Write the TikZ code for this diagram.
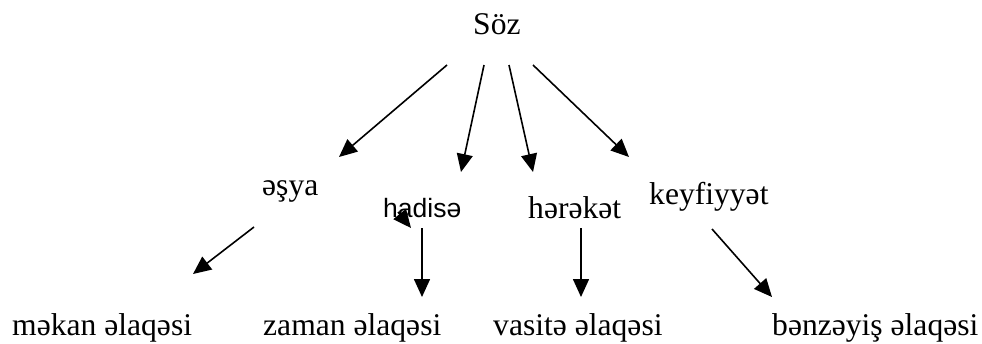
\documentclass[tikz,border=0pt]{standalone}
\usepackage{fontspec}
\setmainfont{Liberation Serif}
\newfontfamily\sansf{Liberation Sans}
\usetikzlibrary{arrows.meta}
\begin{document}
\begin{tikzpicture}[x=1pt,y=-1pt,
  lbl/.style={inner sep=0pt,anchor=base west,font=\fontsize{31.6}{36}\selectfont},
  slbl/.style={inner sep=0pt,anchor=base west,font=\sansf\fontsize{26.5}{30}\selectfont},
  arr/.style={line width=1.6pt,-{Triangle[length=18pt,width=16pt]}}]
\useasboundingbox (0,0) rectangle (982,343);
% nodes
\node[lbl] (soz) at (473,34) {Söz};
\node[lbl] (esya) at (262,195) {əşya};
\node[slbl] (hadise) at (383,217) {hadisə};
\node[lbl] (hereket) at (528,218) {hərəkət};
\node[lbl] (keyf) at (649,204) {keyfiyyət};
\node[lbl] (mekan) at (12,335) {məkan əlaqəsi};
\node[lbl] (zaman) at (263,335) {zaman əlaqəsi};
\node[lbl] (vasite) at (493,335) {vasitə əlaqəsi};
\node[lbl] (benz) at (772,335) {bənzəyiş əlaqəsi};
% connector ends
\coordinate (a1s) at (447,65);  \coordinate (a1e) at (339,157);
\coordinate (a2s) at (484,65);  \coordinate (a2e) at (461,172);
\coordinate (a3s) at (509,65);  \coordinate (a3e) at (533,172);
\coordinate (a4s) at (533,65);  \coordinate (a4e) at (629,157);
\coordinate (b1s) at (254,227); \coordinate (b1e) at (193,274);
\coordinate (b2s) at (422,228); \coordinate (b2e) at (422,297);
\coordinate (b3s) at (581,228); \coordinate (b3e) at (581,297);
\coordinate (b4s) at (712,229); \coordinate (b4e) at (772,297);
\coordinate (cs) at (398,212);  \coordinate (ce) at (411,228);
% connectors
\draw[arr] (a1s) -- (a1e);
\draw[arr] (a2s) -- (a2e);
\draw[arr] (a3s) -- (a3e);
\draw[arr] (a4s) -- (a4e);
\draw[arr] (b1s) -- (b1e);
\draw[arr] (b2s) -- (b2e);
\draw[arr] (b3s) -- (b3e);
\draw[arr] (b4s) -- (b4e);
\draw[arr] (cs) -- (ce);
\end{tikzpicture}
\end{document}
